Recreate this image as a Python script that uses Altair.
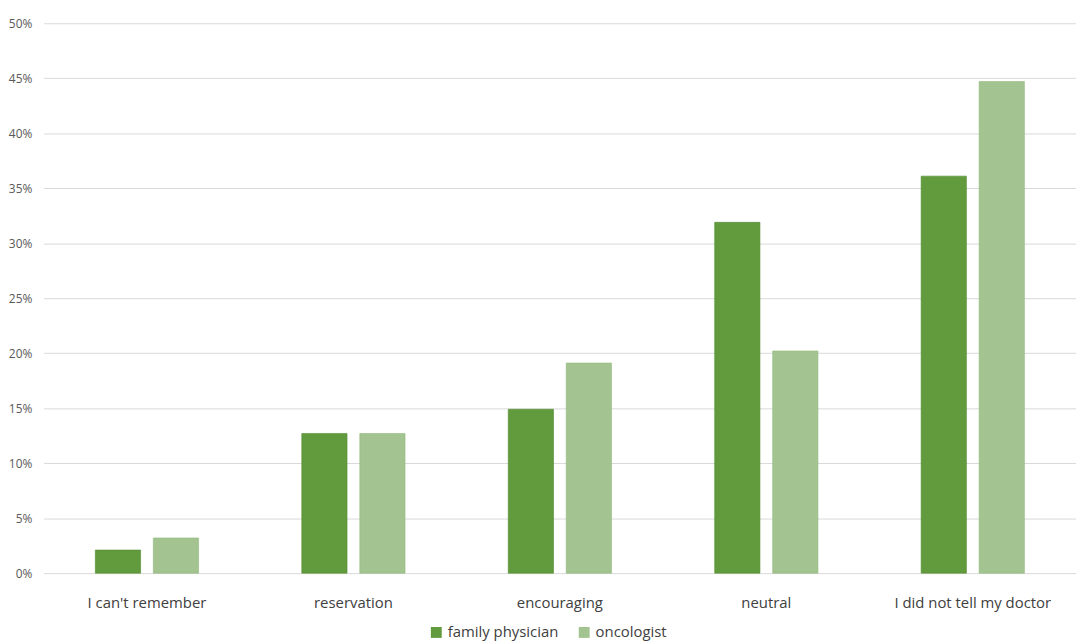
import altair as alt
import pandas as pd

categories = ["I can't remember", "reservation", "encouraging", "neutral", "I did not tell my doctor"]
family_physician = [2.1, 12.7, 14.9, 31.9, 36.1]
oncologist = [3.2, 12.7, 19.1, 20.2, 44.7]
series = ["family physician", "oncologist"]
colors = ["#629b3d", "#a3c490"]

rows = []
for c, f, o in zip(categories, family_physician, oncologist):
    rows.append({"category": c, "series": series[0], "value": f / 100})
    rows.append({"category": c, "series": series[1], "value": o / 100})
df = pd.DataFrame(rows)

font = "Open Sans"

chart = alt.Chart(df).mark_bar(strokeWidth=1, strokeOpacity=0.6).encode(
    x=alt.X("category:N", sort=categories, title=None,
            scale=alt.Scale(paddingInner=0.5, paddingOuter=0.25),
            axis=alt.Axis(labelAngle=0, labelFontSize=15, labelColor="#404040",
                          labelFont=font, ticks=False, domain=False, labelPadding=23)),
    xOffset=alt.XOffset("series:N", sort=series, scale=alt.Scale(paddingInner=0.22)),
    y=alt.Y("value:Q", title=None,
            scale=alt.Scale(domain=[0, 0.5]),
            axis=alt.Axis(format=".0%", values=[i / 100 for i in range(0, 55, 5)],
                          labelFontSize=12, labelColor="#595959", labelFont=font,
                          ticks=False, domain=False, labelPadding=12,
                          gridColor="#d9d9d9", gridWidth=1)),
    color=alt.Color("series:N", sort=series,
                    scale=alt.Scale(domain=series, range=colors),
                    legend=alt.Legend(orient="none", legendX=388, legendY=606,
                                      title=None, direction="horizontal",
                                      symbolType="square", symbolSize=120,
                                      labelFontSize=15, labelColor="#404040", labelFont=font,
                                      columnPadding=18, symbolStrokeWidth=0)),
    stroke=alt.Stroke("series:N", sort=series,
                      scale=alt.Scale(domain=series, range=["#4e8a2c", "#8fb87a"]),
                      legend=None),
).properties(
    width=1040, height=554,
    padding={"left": 0, "top": 7, "right": 0, "bottom": 0},
).configure(background="white").configure_view(stroke=None)

chart.save("out.html", embed_options={"renderer": "svg", "actions": False})
